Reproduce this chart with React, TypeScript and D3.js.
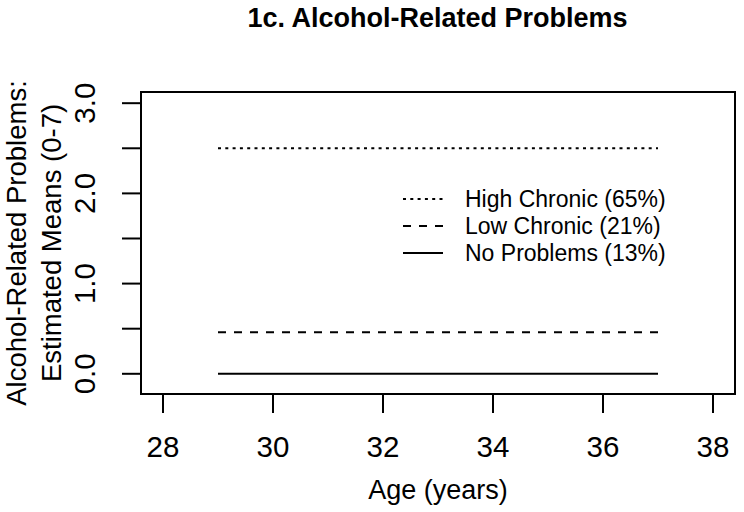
import React from "react";
import * as d3 from "d3";

const W = 744;
const H = 512;

const title = "1c. Alcohol-Related Problems";
const xLabel = "Age (years)";
const yLabelLines = ["Alcohol-Related Problems:", "Estimated Means (0-7)"];

const ages = [29, 37];
const seriesNames = ["High Chronic (65%)", "Low Chronic (21%)", "No Problems (13%)"];
const highChronic = [2.5, 2.5];
const lowChronic = [0.46, 0.46];
const noProblems = [0, 0];
const seriesValues = [highChronic, lowChronic, noProblems];
const seriesDash = ["3,4.3", "8,8", null];

const xTicks = [28, 30, 32, 34, 36, 38];
const yTicks = [0, 0.5, 1, 1.5, 2, 2.5, 3];
const yTickLabels = [0, 1, 2, 3];

const FONT = "'Liberation Sans', Arial, Helvetica, sans-serif";

export default function App() {
  const left = 141, right = 735, top = 92, bottom = 394;
  const x = d3.scaleLinear().domain([27.6, 38.4]).range([left, right]);
  const y = d3.scaleLinear().domain([-0.224, 3.124]).range([bottom, top]);
  const line = d3
    .line<number>()
    .x((_, i) => x(ages[i]))
    .y((d) => y(d));

  const legendX0 = 403, legendX1 = 443, legendTextX = 465;
  const legendY = [199, 226, 253];

  return (
    <svg
      width={W}
      height={H}
      style={{ position: "absolute", left: 0, top: 0, background: "#fff" }}
      fontFamily={FONT}
    >
      <rect x={0} y={0} width={W} height={H} fill="#fff" />
      <text x={(left + right) / 2 - 0.5} y={27} textAnchor="middle" fontWeight="bold" fontSize={27}>
        {title}
      </text>

      {/* box */}
      <rect x={left} y={top} width={right - left} height={bottom - top} fill="none" stroke="#000" strokeWidth={2} />

      {/* x axis */}
      {xTicks.map((t) => (
        <g key={"x" + t}>
          <line x1={x(t)} x2={x(t)} y1={bottom} y2={bottom + 19} stroke="#000" strokeWidth={2} />
          <text x={x(t)} y={457} textAnchor="middle" fontSize={29.5}>
            {t}
          </text>
        </g>
      ))}
      <text x={(left + right) / 2} y={499} textAnchor="middle" fontSize={27}>
        {xLabel}
      </text>

      {/* y axis */}
      {yTicks.map((t) => (
        <line key={"y" + t} x1={left - 19} x2={left} y1={y(t)} y2={y(t)} stroke="#000" strokeWidth={2} />
      ))}
      {yTickLabels.map((t) => (
        <text
          key={"yl" + t}
          transform={`translate(95,${y(t)}) rotate(-90)`}
          textAnchor="middle"
          fontSize={29.5}
        >
          {t.toFixed(1)}
        </text>
      ))}
      {yLabelLines.map((s, i) => (
        <text
          key={"ylab" + i}
          transform={`translate(${i === 0 ? 26 : 61},${(top + bottom) / 2}) rotate(-90)`}
          textAnchor="middle"
          fontSize={27.5}
        >
          {s}
        </text>
      ))}

      {/* series */}
      {seriesValues.map((vals, i) => (
        <path
          key={"s" + i}
          d={line(vals) || ""}
          fill="none"
          stroke="#000"
          strokeWidth={2}
          strokeDasharray={seriesDash[i] || undefined}
        />
      ))}

      {/* legend */}
      {seriesNames.map((n, i) => (
        <g key={"lg" + i}>
          <line
            x1={legendX0}
            x2={legendX1}
            y1={legendY[i]}
            y2={legendY[i]}
            stroke="#000"
            strokeWidth={2}
            strokeDasharray={seriesDash[i] || undefined}
          />
          <text x={legendTextX} y={legendY[i] + 8} fontSize={23}>
            {n}
          </text>
        </g>
      ))}
    </svg>
  );
}
